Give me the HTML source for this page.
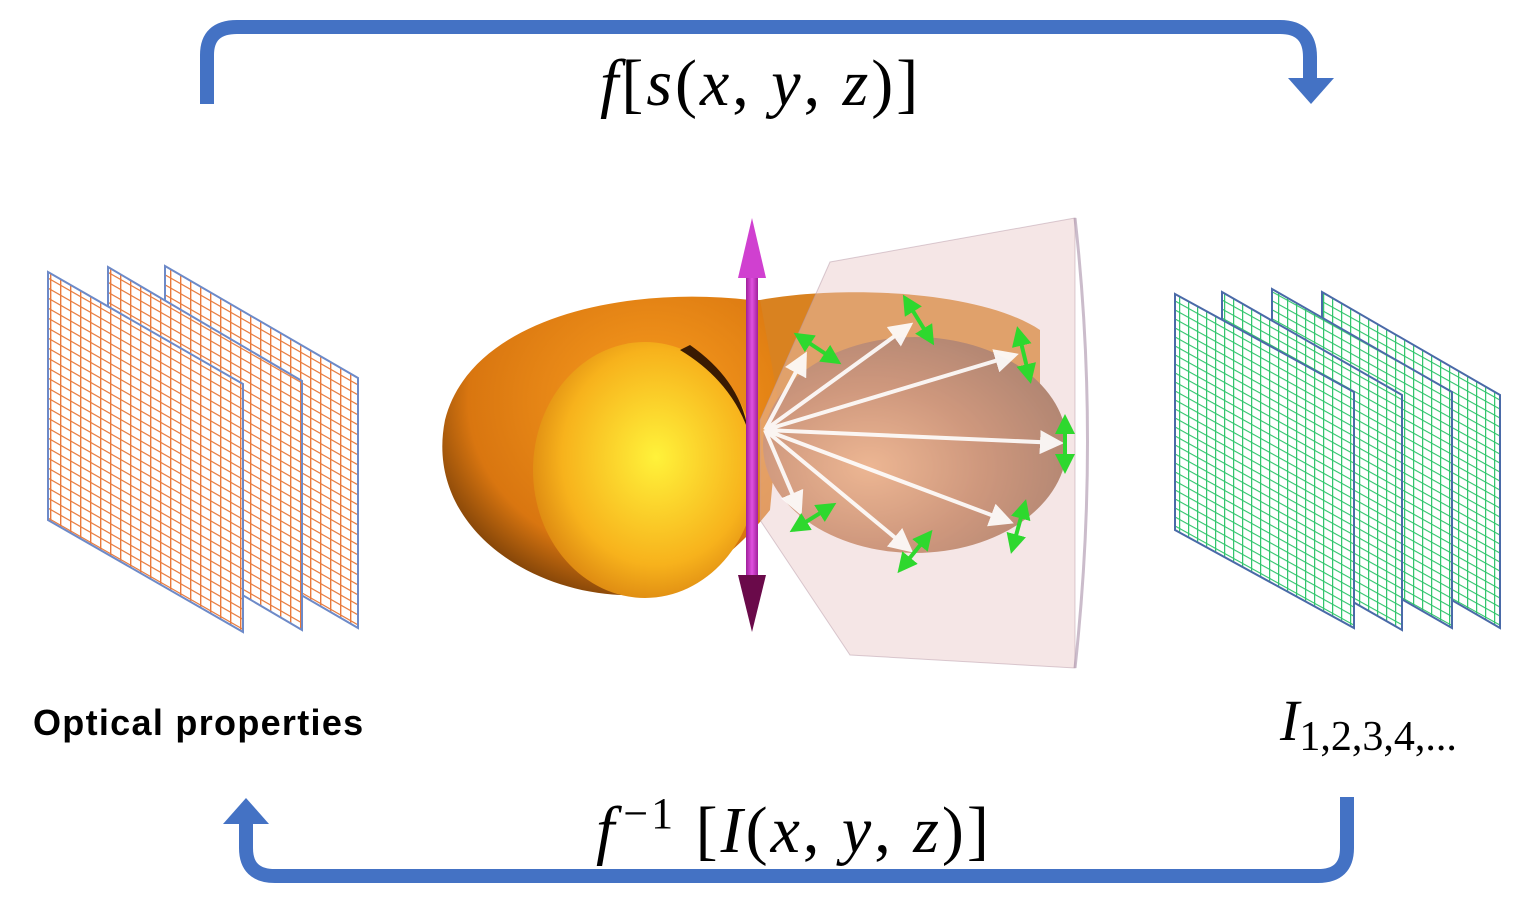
<!DOCTYPE html>
<html><head><meta charset="utf-8"><style>
html,body{margin:0;padding:0;background:#fff;}
svg{display:block}
</style></head><body>
<svg width="1527" height="913" viewBox="0 0 1527 913" xmlns="http://www.w3.org/2000/svg">
<defs>
<pattern id="og" width="10" height="10" patternUnits="userSpaceOnUse" patternTransform="skewY(29.7)">
<rect width="10" height="10" fill="#fff"/>
<path d="M0 0H10M0 0V10" stroke="#e8793a" stroke-width="2.8" fill="none"/>
</pattern>
<pattern id="gg" width="9" height="9" patternUnits="userSpaceOnUse" patternTransform="skewY(29)">
<rect width="9" height="9" fill="#fff"/>
<path d="M0 0H9M0 0V9" stroke="#2ec46a" stroke-width="2.4" fill="none"/>
</pattern>
<radialGradient id="yel" cx="0.55" cy="0.45" r="0.7">
<stop offset="0" stop-color="#fff23a"/><stop offset="0.6" stop-color="#f7b21c"/><stop offset="1" stop-color="#c96a0a"/>
</radialGradient>
<radialGradient id="outer" cx="0.6" cy="0.35" r="0.75">
<stop offset="0" stop-color="#f99d1e"/><stop offset="0.7" stop-color="#d97610"/><stop offset="1" stop-color="#5a2d05"/>
</radialGradient>
<radialGradient id="brn" cx="0.35" cy="0.6" r="0.75">
<stop offset="0" stop-color="#f0a868"/><stop offset="0.5" stop-color="#b87040"/><stop offset="1" stop-color="#7a4a2a"/>
</radialGradient>
<linearGradient id="mag" x1="0" x2="1"><stop offset="0" stop-color="#a0209a"/><stop offset="0.5" stop-color="#e050e0"/><stop offset="1" stop-color="#a0209a"/></linearGradient>
<marker id="wh" markerWidth="6" markerHeight="6" refX="5" refY="3" orient="auto"><path d="M0 0L6 3L0 6z" fill="#fff"/></marker>
<marker id="gr" markerWidth="5" markerHeight="5" refX="4" refY="2.5" orient="auto-start-reverse"><path d="M0 0L5 2.5L0 5z" fill="#2ed82e"/></marker>
</defs>

<path d="M207 104 V55 Q207 27 237 27 H1280 Q1310 27 1310 57 V80" fill="none" stroke="#4472c4" stroke-width="14"/>
<path d="M1288 78 H1334 L1311 104 Z" fill="#4472c4"/>
<path d="M1347 797 V848 Q1347 876 1318 876 H275 Q246 876 246 848 V822" fill="none" stroke="#4472c4" stroke-width="14"/>
<path d="M223 824 H269 L246 798 Z" fill="#4472c4"/>

<text x="600" y="105" font-family="Liberation Serif, serif" font-size="66" letter-spacing="3" font-style="italic">f<tspan font-style="normal">[</tspan>s<tspan font-style="normal">(</tspan>x<tspan font-style="normal">, </tspan>y<tspan font-style="normal">, </tspan>z<tspan font-style="normal">)]</tspan></text>
<text x="596" y="852" font-family="Liberation Serif, serif" font-size="66" letter-spacing="3" font-style="italic">f<tspan font-style="normal" font-size="44" dy="-24" dx="6">−1</tspan><tspan font-style="normal" dy="24"> [</tspan>I<tspan font-style="normal">(</tspan>x<tspan font-style="normal">, </tspan>y<tspan font-style="normal">, </tspan>z<tspan font-style="normal">)]</tspan></text>
<text x="33" y="735" font-family="Liberation Sans, sans-serif" font-size="36" letter-spacing="1.3" font-weight="bold">Optical properties</text>
<text x="1280" y="740" font-family="Liberation Serif, serif" font-size="58" font-style="italic">I<tspan font-style="normal" font-size="42" dy="10">1,2,3,4,...</tspan></text>

<g stroke="#6d8ac8" stroke-width="2">
<path d="M165 266 L358 378 L358 628 L165 516Z" fill="url(#og)"/>
<path d="M108 267 L302 381 L302 630 L108 516Z" fill="url(#og)"/>
<path d="M48 272 L243 384 L243 632 L48 520Z" fill="url(#og)"/>
</g>
<g stroke="#4a6aa8" stroke-width="2">
<path d="M1322 292 L1500 395 L1500 628 L1322 525Z" fill="url(#gg)"/>
<path d="M1272 289 L1452 392 L1452 628 L1272 525Z" fill="url(#gg)"/>
<path d="M1222 292 L1402 395 L1402 630 L1222 527Z" fill="url(#gg)"/>
<path d="M1175 294 L1354 392 L1354 628 L1175 530Z" fill="url(#gg)"/>
</g>

<path d="M750 300 C620 285 470 320 445 420 C425 520 520 590 620 595 C680 597 730 560 770 510 L790 300Z" fill="url(#outer)"/>
<path d="M760 300 C840 285 980 290 1040 330 L1040 420 L800 520Z" fill="#d98220"/>
<ellipse cx="645" cy="470" rx="112" ry="128" fill="url(#yel)"/>
<path d="M690 345 Q740 380 748 430 Q730 380 680 350Z" fill="#3a1a02"/>
<ellipse cx="915" cy="445" rx="152" ry="108" fill="url(#brn)"/>
<path d="M830 262 L1075 218 L1075 668 L850 655 L760 520 L760 420 Z" fill="#e8c8c8" fill-opacity="0.45" stroke="#b89aa8" stroke-opacity="0.5"/>
<path d="M1075 218 Q1100 440 1075 668" fill="none" stroke="#a890a8" stroke-width="3" opacity="0.6"/>
<g stroke="#fff" stroke-width="4" marker-end="url(#wh)" opacity="0.9">
<line x1="765" y1="430" x2="910" y2="325"/>
<line x1="765" y1="430" x2="1015" y2="355"/>
<line x1="765" y1="430" x2="1060" y2="443"/>
<line x1="765" y1="430" x2="1010" y2="522"/>
<line x1="765" y1="430" x2="910" y2="550"/>
<line x1="765" y1="430" x2="800" y2="512"/>
<line x1="765" y1="430" x2="805" y2="355"/>
</g>
<g stroke="#2ed82e" stroke-width="4" marker-start="url(#gr)" marker-end="url(#gr)">
<line x1="797" y1="335" x2="838" y2="362"/>
<line x1="905" y1="298" x2="932" y2="342"/>
<line x1="1018" y1="330" x2="1030" y2="380"/>
<line x1="1065" y1="418" x2="1065" y2="470"/>
<line x1="1025" y1="503" x2="1012" y2="550"/>
<line x1="930" y1="533" x2="900" y2="570"/>
<line x1="833" y1="505" x2="793" y2="530"/>
</g>
<rect x="746" y="275" width="12" height="300" fill="url(#mag)"/>
<path d="M752 218 L738 278 H766 Z" fill="#d040d0"/>
<path d="M752 632 L738 575 H766 Z" fill="#6a0a4a"/>
</svg>
</body></html>
